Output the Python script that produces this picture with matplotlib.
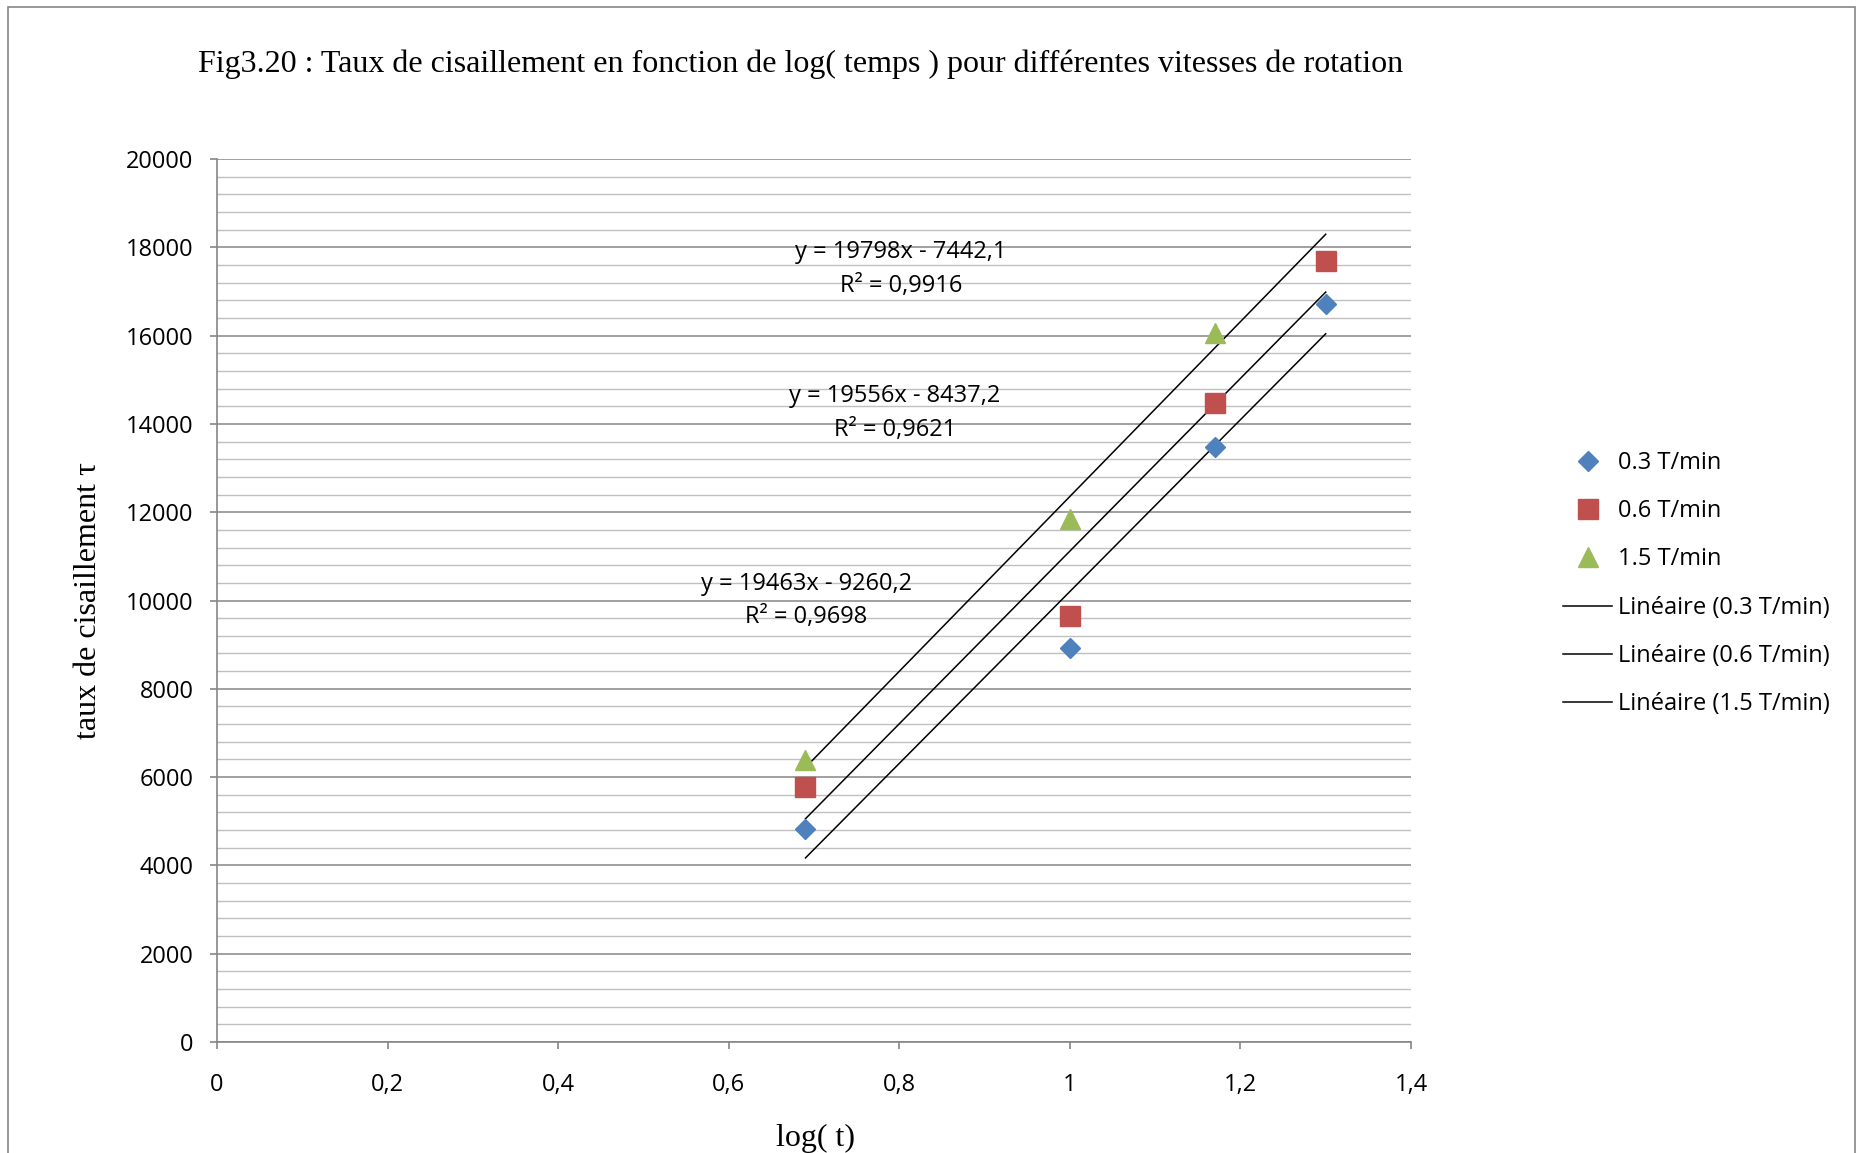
import matplotlib
matplotlib.use("Agg")
import matplotlib.pyplot as plt
from matplotlib.patches import Rectangle
import numpy as np

# Measurements: log of time vs shear rate, three rotation speeds
log_t = [0.69, 1.0, 1.17, 1.30]
tau_03 = [4824, 8924, 13477, 16716]
tau_06 = [5776, 9649, 14473, 17690]
log_t_15 = [0.69, 1.0, 1.17]
tau_15 = [6387, 11846, 16048]

series_names = ["0.3 T/min", "0.6 T/min", "1.5 T/min"]
trend_names = ["Linéaire (0.3 T/min)", "Linéaire (0.6 T/min)", "Linéaire (1.5 T/min)"]

# Linear trend coefficients (slope, intercept) and R²
trend_slope = [19463, 19556, 19798]
trend_intercept = [-9260.2, -8437.2, -7442.1]
trend_r2 = ["0,9698", "0,9621", "0,9916"]
trend_eq = ["y = 19463x - 9260,2", "y = 19556x - 8437,2", "y = 19798x - 7442,1"]
trend_range = (0.69, 1.30)

x_ticks = [0, 0.2, 0.4, 0.6, 0.8, 1.0, 1.2, 1.4]
x_tick_labels = ["0", "0,2", "0,4", "0,6", "0,8", "1", "1,2", "1,4"]
y_ticks = [0, 2000, 4000, 6000, 8000, 10000, 12000, 14000, 16000, 18000, 20000]
y_tick_labels = [str(v) for v in y_ticks]

title = "Fig3.20 : Taux de cisaillement en fonction de log( temps ) pour différentes vitesses de rotation"
xlabel = "log( t)"
ylabel = "taux de cisaillement τ"

W, H = 1859, 1153
DPI = 100
SANS = ["Open Sans", "DejaVu Sans"]
SERIF = ["Liberation Serif", "DejaVu Serif"]
TICK_FS = 17
SERIF_FS = 23

fig = plt.figure(figsize=(W / DPI, H / DPI), dpi=DPI)
fig.patch.set_facecolor("white")

# outer chart frame
fig.patches.append(Rectangle((8 / W, -0.01), (1855 - 8) / W, 1.01 - 7 / H,
                             transform=fig.transFigure, fill=False,
                             edgecolor="#868686", linewidth=1.2))

left, right, top, bottom = 217, 1411, 159, 1042
ax = fig.add_axes([left / W, 1 - bottom / H, (right - left) / W, (bottom - top) / H])
ax.set_xlim(0, 1.4)
ax.set_ylim(0, 20000)

# gridlines
ax.set_yticks(y_ticks)
ax.set_yticks(np.arange(0, 20001, 400), minor=True)
ax.grid(which="major", axis="y", color="#868686", linewidth=1.1)
ax.grid(which="minor", axis="y", color="#c0c0c0", linewidth=1.0)
ax.set_axisbelow(True)

for s in ["top", "right"]:
    ax.spines[s].set_visible(False)
for s in ["left", "bottom"]:
    ax.spines[s].set_color("#868686")
    ax.spines[s].set_linewidth(1.2)

ax.set_xticks(x_ticks)
ax.set_xticklabels(x_tick_labels, fontsize=TICK_FS, family=SANS)
ax.set_yticklabels(y_tick_labels, fontsize=TICK_FS, family=SANS)
ax.tick_params(axis="both", which="major", direction="out", length=5,
               width=1.2, color="#868686")
ax.tick_params(axis="y", which="minor", length=0)
ax.tick_params(axis="y", pad=12)
ax.tick_params(axis="x", pad=17)

colors = ["#4F81BD", "#C0504D", "#9BBB59"]
markers = ["D", "s", "^"]
msizes = [10.5, 14, 14]
xs = [log_t, log_t, log_t_15]
ys = [tau_03, tau_06, tau_15]

marker_handles = []
for x, y, c, m, ms, name in zip(xs, ys, colors, markers, msizes, series_names):
    h, = ax.plot(x, y, linestyle="none", marker=m, markersize=ms,
                 color=c, markeredgecolor=c, label=name, zorder=4)
    marker_handles.append(h)

line_handles = []
xt = np.array(trend_range)
for a, b, name in zip(trend_slope, trend_intercept, trend_names):
    h, = ax.plot(xt, a * xt + b, color="black", linewidth=1.1, label=name, zorder=3)
    line_handles.append(h)

# trend equations
eq_pos = [(0.691, 10000), (0.795, 14250), (0.802, 17510)]
for (px, py), eq, r2 in zip(eq_pos, trend_eq, trend_r2):
    ax.text(px, py, eq + "\nR² = " + r2, ha="center", va="center",
            fontsize=TICK_FS, family=SANS, linespacing=1.55, zorder=5)

fig.text(801 / W, 1 - 64 / H, title, ha="center", va="center",
         fontsize=SERIF_FS, family=SERIF)
fig.text(816 / W, 1 - 1138 / H, xlabel, ha="center", va="center",
         fontsize=SERIF_FS, family=SERIF)
fig.text(89 / W, 1 - 601 / H, ylabel, ha="center", va="center",
         rotation=90, fontsize=SERIF_FS, family=SERIF)

fig.legend(handles=marker_handles + line_handles,
           labels=series_names + trend_names,
           loc="upper left", bbox_to_anchor=(1551 / W, 1 - 439 / H),
           frameon=False, prop={"family": SANS, "size": TICK_FS},
           handlelength=2.1, handletextpad=0.22, labelspacing=1.03,
           borderpad=0, numpoints=1)

fig.savefig("out.png", dpi=DPI)
